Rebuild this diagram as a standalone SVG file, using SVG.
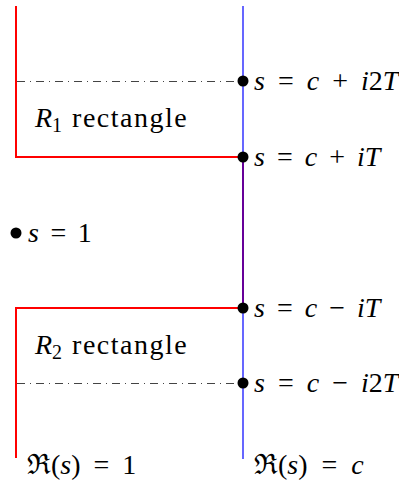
<svg xmlns="http://www.w3.org/2000/svg" width="399" height="485" viewBox="0 0 399 485">
<defs>
<style>
.t{font-family:"Liberation Serif","DejaVu Serif",serif;font-size:28px;fill:#000}
.m{font-style:italic}
.sub{font-size:20px;font-style:normal}
.dd{stroke:#444;stroke-width:1;stroke-dasharray:8 5 1 5;fill:none}
.dot{fill:#000}
</style>
</defs>
<rect width="399" height="485" fill="#fff"/>
<g id="connectors">
<path d="M16 6 V157 H243 V308 H16 V458" fill="none" stroke="#f00" stroke-width="2"/>
<line x1="243" y1="6" x2="243" y2="459" stroke="#00f" stroke-width="1.2"/>
<line class="dd" x1="17" y1="81.5" x2="243" y2="81.5"/>
<line class="dd" x1="17" y1="383.5" x2="243" y2="383.5"/>
</g>
<g id="p1"><circle class="dot" cx="243" cy="81" r="5.5"/><text class="t" x="254" y="90" word-spacing="6"><tspan class="m">s</tspan> = <tspan class="m">c</tspan> + <tspan class="m">i</tspan>2<tspan class="m">T</tspan></text></g>
<g id="p2"><circle class="dot" cx="243" cy="157" r="5.5"/><text class="t" x="254" y="166" word-spacing="5"><tspan class="m">s</tspan> = <tspan class="m">c</tspan> + <tspan class="m">iT</tspan></text></g>
<g id="p3"><circle class="dot" cx="243" cy="308" r="5.5"/><text class="t" x="254" y="317" word-spacing="5"><tspan class="m">s</tspan> = <tspan class="m">c</tspan> − <tspan class="m">iT</tspan></text></g>
<g id="p4"><circle class="dot" cx="243" cy="383" r="5.5"/><text class="t" x="254" y="392" word-spacing="6"><tspan class="m">s</tspan> = <tspan class="m">c</tspan> − <tspan class="m">i</tspan>2<tspan class="m">T</tspan></text></g>
<g id="p5"><circle class="dot" cx="16" cy="233" r="5.5"/><text class="t" x="28" y="242" word-spacing="4.5"><tspan class="m">s</tspan> = 1</text></g>
<g id="r1"><text class="t" x="35" y="127"><tspan class="m">R</tspan><tspan class="sub" dy="5">1</tspan><tspan dy="-5" word-spacing="3"> </tspan><tspan letter-spacing="1.5">rectangle</tspan></text></g>
<g id="r2"><text class="t" x="35" y="354"><tspan class="m">R</tspan><tspan class="sub" dy="5">2</tspan><tspan dy="-5" word-spacing="3"> </tspan><tspan letter-spacing="1.5">rectangle</tspan></text></g>
<g id="l1"><text class="t" x="27" y="474" word-spacing="6">ℜ(<tspan class="m">s</tspan>) = 1</text></g>
<g id="l2"><text class="t" x="254" y="474" word-spacing="7">ℜ(<tspan class="m">s</tspan>) = <tspan class="m">c</tspan></text></g>
</svg>
